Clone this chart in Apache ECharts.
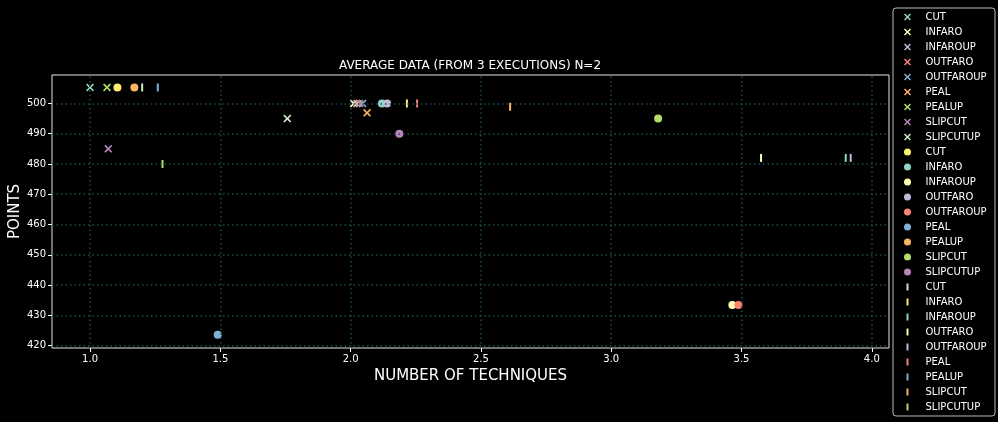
<!DOCTYPE html>
<html>
<head>
<meta charset="utf-8">
<script src="https://cdn.jsdelivr.net/npm/echarts@6/dist/echarts.min.js"></script>
<style>html,body{margin:0;padding:0;background:#000;}#c{width:998px;height:422px;}</style>
</head>
<body>
<div id="c"></div>
<script>
// ---- data ----
const techniques = ['CUT','INFARO','INFAROUP','OUTFARO','OUTFAROUP','PEAL','PEALUP','SLIPCUT','SLIPCUTUP'];
const crossX = [1.0, 2.012, 2.024, 2.034, 2.046, 2.063, 1.065, 1.07, 1.757];
const crossY = [505.3, 500, 500, 500, 500, 496.9, 505.3, 485, 495];
const dotX = [1.105, 2.12, 3.465, 2.14, 3.488, 1.49, 1.17, 3.18, 2.187];
const dotY = [505.3, 500, 433.4, 500, 433.4, 423.6, 505.3, 495, 490];
const tickX = [1.2, 2.216, 3.9, 3.575, 3.919, 2.255, 1.26, 2.612, 1.278];
const tickY = [505.3, 500, 482, 482, 482, 500, 505.3, 498.9, 480];
const xTicks = [1.0, 1.5, 2.0, 2.5, 3.0, 3.5, 4.0];
const yTicks = [420, 430, 440, 450, 460, 470, 480, 490, 500];

// ---- styles ----
const crossColors = ['#8dd3c7','#feffb3','#bfbbd9','#fa8174','#81b1d2','#fdb462','#b3de69','#bc82bd','#ccebc4'];
const dotColors   = ['#ffed6f','#8dd3c7','#feffb3','#bfbbd9','#fa8174','#81b1d2','#fdb462','#b3de69','#bc82bd'];
const tickColors  = ['#ccebc4','#ffed6f','#8dd3c7','#feffb3','#bfbbd9','#fa8174','#81b1d2','#fdb462','#b3de69'];
const CROSS = 'path://M0,1.5 L1.5,0 L5,3.5 L8.5,0 L10,1.5 L6.5,5 L10,8.5 L8.5,10 L5,6.5 L1.5,10 L0,8.5 L3.5,5 Z';
const VBAR = 'path://M3.6,0 L6.4,0 L6.4,10 L3.6,10 Z M0,5 L0.01,5 L0,5.01 Z M10,5 L9.99,5 L10,5.01 Z';
const FONT = 'DejaVu Sans';

const series = [];
const legendData = [];
// grid lines (dotted) drawn via the axis scales
series.push({
  type: 'scatter', name: '_grid', data: [], silent: true, z: 1,
  markLine: {
    silent: true, symbol: 'none', label: {show: false},
    lineStyle: {color: '#1d4d4d', type: [1.5, 3], width: 1.5},
    emphasis: {disabled: true},
    data: xTicks.map(v => ({xAxis: v})).concat(yTicks.map(v => ({yAxis: v})))
  }
});
techniques.forEach((t, i) => {
  series.push({type: 'scatter', name: t, symbol: CROSS, symbolSize: 8, z: 3,
    itemStyle: {color: crossColors[i], opacity: 1}, data: [[crossX[i], crossY[i]]]});
  legendData.push({name: t, icon: CROSS});
});
techniques.forEach((t, i) => {
  const n = t + ' ';
  series.push({type: 'scatter', name: n, symbol: 'circle', symbolSize: 8, z: 3,
    itemStyle: {color: dotColors[i], opacity: 1}, data: [[dotX[i], dotY[i]]]});
  legendData.push({name: n, icon: 'circle'});
});
techniques.forEach((t, i) => {
  const n = t + '  ';
  series.push({type: 'scatter', name: n, symbol: 'rect', symbolSize: [2, 8], z: 3,
    itemStyle: {color: tickColors[i], opacity: 1}, data: [[tickX[i], tickY[i]]]});
  legendData.push({name: n, icon: VBAR});
});

const chart = echarts.init(document.getElementById('c'), null, {renderer: 'canvas'});
chart.setOption({
  backgroundColor: '#000',
  animation: false,
  textStyle: {fontFamily: FONT},
  title: {
    text: 'AVERAGE DATA (FROM 3 EXECUTIONS) N=2',
    left: 470, top: 60, padding: 0, textAlign: 'center',
    textStyle: {color: '#fff', fontSize: 12, fontWeight: 'normal', fontFamily: FONT}
  },
  grid: {left: 52, right: 109, top: 75, bottom: 74, outerBoundsMode: 'none', containLabel: false,
    show: true, borderColor: '#e6e6e6', borderWidth: 1, backgroundColor: 'transparent'},
  xAxis: {
    type: 'value', min: 0.854, max: 4.066,
    name: 'NUMBER OF TECHNIQUES', nameLocation: 'middle', nameGap: 21,
    nameTextStyle: {color: '#fff', fontSize: 15, fontFamily: FONT},
    axisLine: {show: false},
    axisTick: {show: true, length: 4, lineStyle: {color: '#fff'}, customValues: xTicks},
    axisLabel: {color: '#fff', fontSize: 10, margin: 6, fontFamily: FONT, customValues: xTicks, formatter: v => Number(v).toFixed(1)},
    splitLine: {show: false}
  },
  yAxis: {
    type: 'value', min: 419.2, max: 509.4,
    name: 'POINTS', nameLocation: 'middle', nameGap: 29, nameRotate: 90, nameMoveOverlap: false,
    nameTextStyle: {color: '#fff', fontSize: 15, fontFamily: FONT},
    axisLine: {show: false},
    axisTick: {show: true, length: 4, lineStyle: {color: '#fff'}, customValues: yTicks},
    axisLabel: {color: '#fff', fontSize: 10, margin: 6, fontFamily: FONT, customValues: yTicks},
    splitLine: {show: false}
  },
  legend: {
    orient: 'vertical', left: 893, top: 8,
    padding: [3, 2, 3, 11],
    itemWidth: 26, itemHeight: 7, itemGap: 3,
    symbolKeepAspect: true,
    backgroundColor: '#000', borderColor: '#bbb', borderWidth: 1, borderRadius: 3,
    textStyle: {color: '#fff', fontSize: 10, lineHeight: 12, fontFamily: FONT},
    selectedMode: false,
    data: legendData
  },
  series: series
});
</script>
</body>
</html>
